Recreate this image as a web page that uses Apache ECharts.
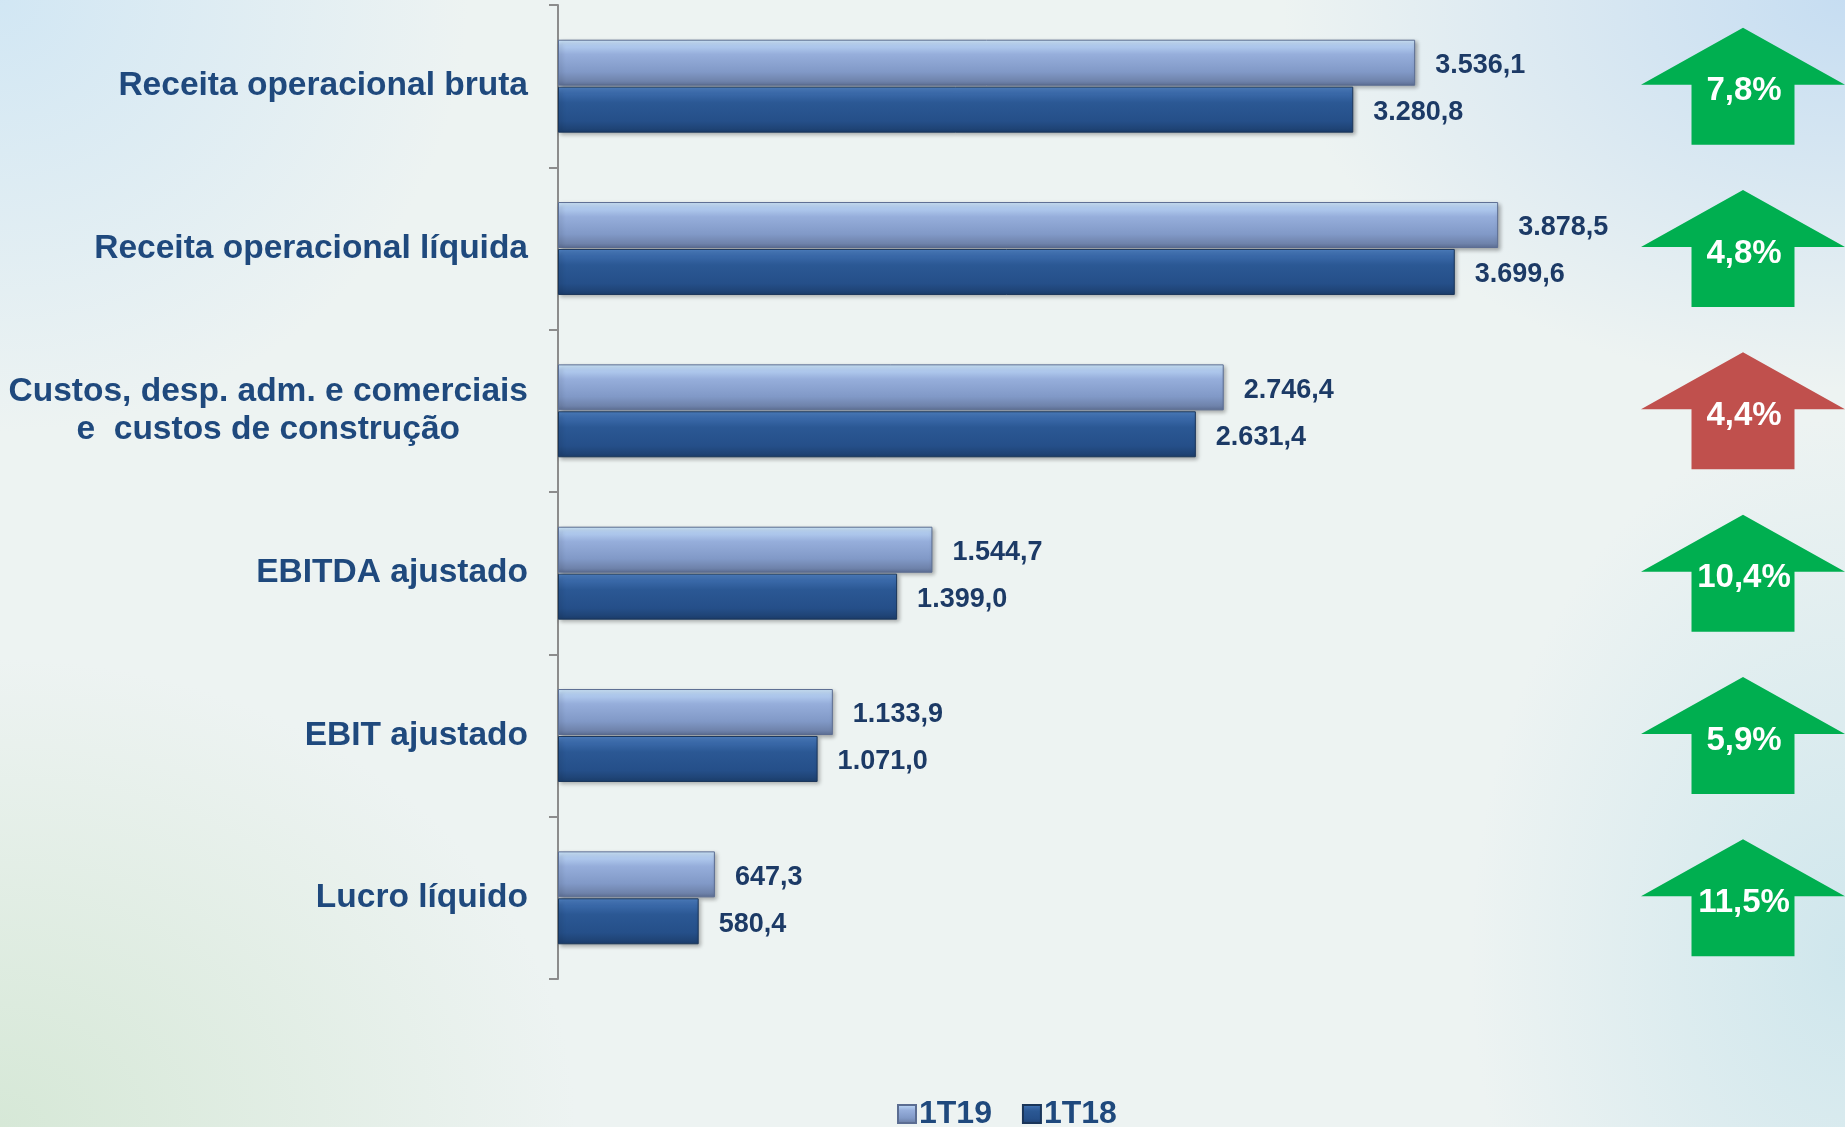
<!DOCTYPE html>
<html><head><meta charset="utf-8">
<script src="https://cdn.jsdelivr.net/npm/echarts@6/dist/echarts.min.js"></script>
<style>
html,body{margin:0;padding:0;width:1845px;height:1127px;overflow:hidden;}
body{background:
 radial-gradient(ellipse 750px 520px at 100% 0%, rgba(196,220,242,0.95), rgba(196,220,242,0) 75%),
 radial-gradient(ellipse 650px 600px at 0% 0%, rgba(208,230,244,0.95), rgba(208,230,244,0) 72%),
 radial-gradient(ellipse 800px 650px at 0% 100%, rgba(210,230,210,0.85), rgba(210,230,210,0) 72%),
 radial-gradient(ellipse 520px 750px at 100% 85%, rgba(204,229,236,0.9), rgba(204,229,236,0) 72%),
 #edf3f2;}
#chart{width:1845px;height:1127px;}
</style></head><body><div id="chart"></div>
<script>
const categories = ['Receita operacional bruta', 'Receita operacional líquida', 'Custos, desp. adm. e comerciais\ne  custos de construção', 'EBITDA ajustado', 'EBIT ajustado', 'Lucro líquido'];
const seriesNames = ['1T19', '1T18'];
const values1T19 = [3536.1, 3878.5, 2746.4, 1544.7, 1133.9, 647.3];
const values1T18 = [3280.8, 3699.6, 2631.4, 1399.0, 1071.0, 580.4];
const changeLabels = ['7,8%', '4,8%', '4,4%', '10,4%', '5,9%', '11,5%'];
const changeFavorable = [true, true, false, true, true, true];

function fmtBR(v) {
  const parts = v.toFixed(1).split('.');
  const intPart = parts[0].replace(/\B(?=(\d{3})+(?!\d))/g, '.');
  return intPart + ',' + parts[1];
}

const FONT = '"Liberation Sans", Arial, sans-serif';
const catColor = '#1f497d';
const valColor = '#1c3a66';

const grad19 = new echarts.graphic.LinearGradient(0, 0, 0, 1, [
  {offset: 0, color: '#d2ebfd'}, {offset: 0.12, color: '#b3cdf0'}, {offset: 0.32, color: '#96aedb'},
  {offset: 0.7, color: '#8199c7'}, {offset: 0.9, color: '#6f83ab'}, {offset: 1, color: '#5d6f95'}]);
const grad18 = new echarts.graphic.LinearGradient(0, 0, 0, 1, [
  {offset: 0, color: '#4f82c4'}, {offset: 0.15, color: '#3a69a9'}, {offset: 0.35, color: '#2b5894'},
  {offset: 0.75, color: '#254f89'}, {offset: 1, color: '#1c3e6c'}]);

const chart = echarts.init(document.getElementById('chart'), null, {renderer: 'canvas'});
chart.setOption({
  backgroundColor: 'transparent',
  animation: false,
  grid: {left: 558, right: 75, top: 5, bottom: 148, containLabel: false},
  legend: {
    data: seriesNames, left: 892, top: 1093, itemWidth: 18, itemHeight: 18, itemGap: 30,
    textStyle: {fontFamily: FONT, fontSize: 32, fontWeight: 'bold', color: catColor, padding: [0, 0, 0, -2]},
    icon: 'rect'
  },
  xAxis: {type: 'value', min: 0, max: 5000, show: false},
  yAxis: {
    type: 'category', data: categories, inverse: true,
    axisLine: {show: true, lineStyle: {color: '#8c8c8c', width: 2}},
    axisTick: {show: true, length: 9, lineStyle: {color: '#8c8c8c', width: 2}},
    axisLabel: {
      margin: 30, fontFamily: FONT, fontSize: 33.5, fontWeight: 'bold', color: catColor, lineHeight: 38,
      formatter: function (v) {
        return v.indexOf('\n') >= 0 ? v.split('\n').map(l => '{c|' + l + '}').join('\n') : v;
      },
      rich: {c: {align: 'center', fontFamily: FONT, fontSize: 33.5, fontWeight: 'bold', color: catColor, lineHeight: 38}}
    },
    splitLine: {show: false}
  },
  series: [
    {
      name: '1T19', type: 'bar', data: values1T19, barWidth: 46, barGap: '2%',
      itemStyle: {color: grad19, borderColor: '#5b6d92', borderWidth: 1, shadowColor: 'rgba(0,0,0,0.3)', shadowBlur: 4, shadowOffsetX: 2, shadowOffsetY: 2},
      label: {show: true, position: 'right', distance: 20, offset: [0, 3], formatter: p => fmtBR(p.value), fontFamily: FONT, fontSize: 27, fontWeight: 'bold', color: valColor}
    },
    {
      name: '1T18', type: 'bar', data: values1T18, barWidth: 46, barGap: '2%',
      itemStyle: {color: grad18, borderColor: '#1a3559', borderWidth: 1, shadowColor: 'rgba(0,0,0,0.3)', shadowBlur: 4, shadowOffsetX: 2, shadowOffsetY: 2},
      label: {show: true, position: 'right', distance: 20, offset: [0, 3], formatter: p => fmtBR(p.value), fontFamily: FONT, fontSize: 27, fontWeight: 'bold', color: valColor}
    },
    {
      name: 'variação', type: 'custom', clip: false, silent: true,
      data: categories.map((c, i) => [0, i]),
      encode: {x: 0, y: 1},
      renderItem: function (params, api) {
        const idx = api.value(1);
        const cy = api.coord([0, idx])[1];
        const cx = api.getWidth() - 102;
        const pts = [[cx, cy - 58.5], [cx + 102, cy - 1.5], [cx + 51.5, cy - 1.5], [cx + 51.5, cy + 58.5],
                     [cx - 51.5, cy + 58.5], [cx - 51.5, cy - 1.5], [cx - 102, cy - 1.5]];
        return {
          type: 'group',
          children: [
            {type: 'polygon', shape: {points: pts}, style: {fill: changeFavorable[idx] ? '#00af50' : '#c0504d'}},
            {type: 'text', style: {text: changeLabels[idx], x: cx + 1, y: cy + 5, align: 'center', verticalAlign: 'middle',
              fill: '#ffffff', font: 'bold 33px ' + FONT}}
          ]
        };
      }
    }
  ]
});
</script>
</body></html>
